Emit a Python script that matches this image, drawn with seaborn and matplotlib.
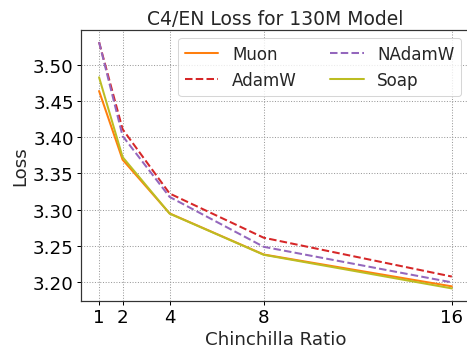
import matplotlib
matplotlib.use("Agg")
import matplotlib.pyplot as plt
import seaborn as sns
import pandas as pd

ratios = [1, 2, 4, 8, 16]
muon = [3.4636, 3.369, 3.295, 3.2384, 3.1945]
adamw = [3.531, 3.411, 3.3224, 3.2615, 3.208]
nadamw = [3.531, 3.4017, 3.3177, 3.249, 3.200]
soap = [3.4825, 3.3726, 3.2947, 3.238, 3.1917]

optimizers = ["Muon", "AdamW", "NAdamW", "Soap"]
losses = [muon, adamw, nadamw, soap]
colors = ["tab:orange", "tab:red", "tab:purple", "tab:olive"]
dashed = [False, True, True, False]

rows = []
for name, vals in zip(optimizers, losses):
    for r, v in zip(ratios, vals):
        rows.append({"Chinchilla Ratio": r, "Loss": v, "Optimizer": name})
df = pd.DataFrame(rows)

sns.set_style("ticks")
plt.rcParams["font.family"] = ["DejaVu Sans"]
plt.rcParams["font.size"] = 18

fig = plt.figure(figsize=(6.4, 4.78), dpi=73)
ax = fig.add_axes([0.1743, 0.1355, 0.8306, 0.7765])

sns.lineplot(
    data=df, x="Chinchilla Ratio", y="Loss", hue="Optimizer", style="Optimizer",
    hue_order=optimizers, style_order=optimizers,
    palette=dict(zip(optimizers, colors)),
    dashes={n: ((3.7, 1.6) if d else "") for n, d in zip(optimizers, dashed)},
    linewidth=2, ax=ax,
)

ax.set_xticks(ratios)
ax.set_xticklabels([str(r) for r in ratios])
ax.set_yticks([3.20, 3.25, 3.30, 3.35, 3.40, 3.45, 3.50])
ax.set_yticklabels(["3.20", "3.25", "3.30", "3.35", "3.40", "3.45", "3.50"])
ax.tick_params(labelsize=18, length=4, width=1, colors="black", direction="out")
ax.set_xlabel("Chinchilla Ratio", fontsize=18)
ax.set_ylabel("Loss", fontsize=18)
ax.set_title("C4/EN Loss for 130M Model", fontsize=18.5)
ax.grid(True, linestyle=":", color="#999999", linewidth=1)
for s in ax.spines.values():
    s.set_color("#333333")
    s.set_linewidth(1.2)

ax.legend(ncol=2, loc="upper right", fontsize=16.5, frameon=True,
          handlelength=2.0, columnspacing=2.0)

fig.savefig("out.png", dpi=73)
